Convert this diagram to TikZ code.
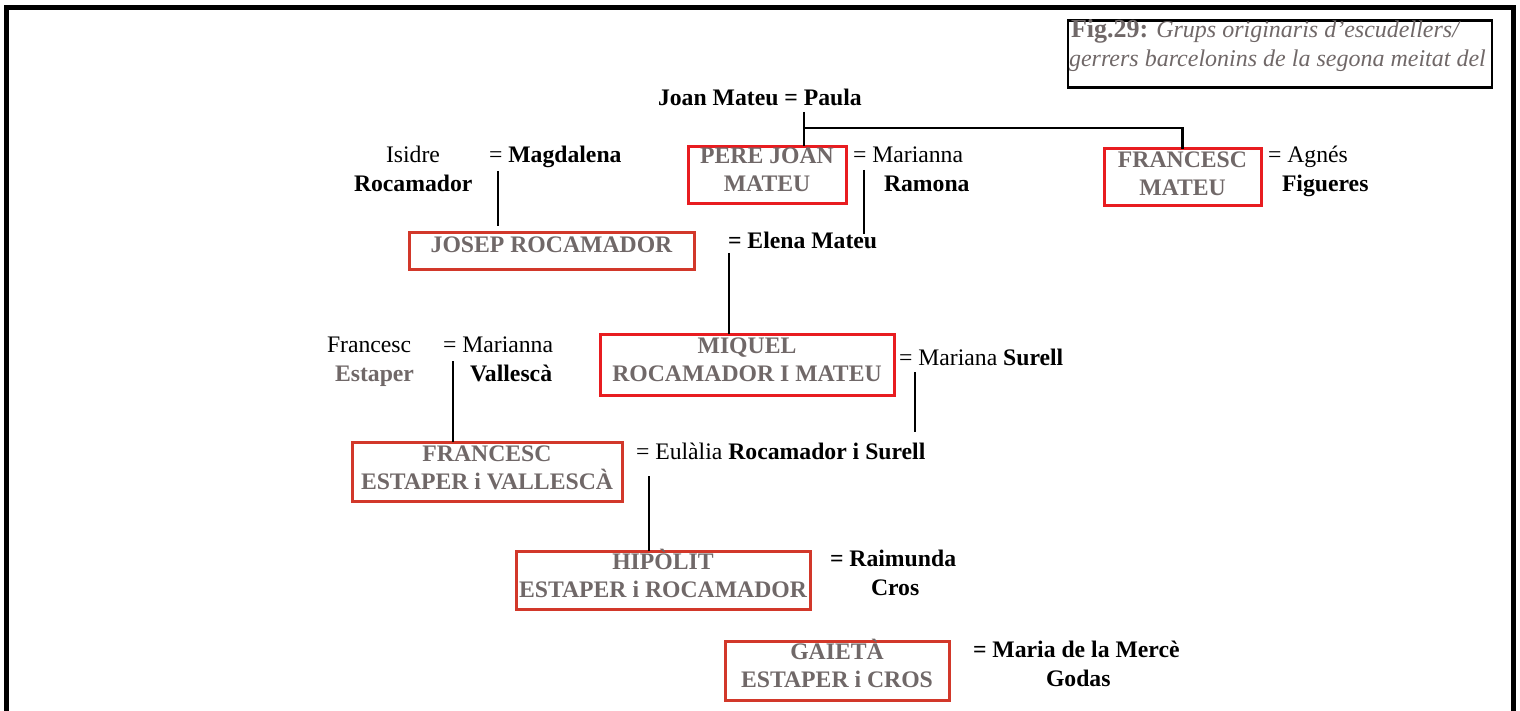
\documentclass[tikz,border=0pt]{standalone}
\usepackage{fontspec}
\setmainfont{Liberation Serif}
\definecolor{namegray}{RGB}{112,104,104}
\definecolor{redA}{RGB}{232,28,32}
\definecolor{redB}{RGB}{210,56,42}
\begin{document}
\begin{tikzpicture}[x=1pt,y=-1pt,
  every node/.style={font=\fontsize{23.7}{28}\selectfont, inner sep=0pt, outer sep=0pt},
  txt/.style={anchor=base west},
  namebox/.style={draw=#1, line width=3pt, text=namegray,
    font=\fontsize{23.7}{28}\selectfont\bfseries, align=center, text height=45pt},
  conn/.style={line width=2.5pt, black}]
\useasboundingbox (0,0) rectangle (1520,711);
% outer frame
\draw[line width=5pt] (6.5,730) -- (6.5,7.5) -- (1513.5,7.5) -- (1513.5,730);
% caption
\node[draw, line width=2.5pt, minimum width=424pt, minimum height=67pt, anchor=north west] (capbox) at (1068,20.5) {};
\node[txt, text=namegray, font=\fontsize{24}{28}\selectfont] (cap1) at (1071,38) {\textbf{\fontsize{26}{28}\selectfont Fig.29:} \textit{Grups originaris d’escudellers/}};
\node[txt, text=namegray, font=\fontsize{24}{28}\selectfont\itshape] (cap2) at (1069,67) {gerrers barcelonins de la segona meitat del};
% top couple
\node[txt, font=\fontsize{23.7}{28}\selectfont\bfseries] (joan) at (658,106) {Joan Mateu = Paula};
% boxes
\node[namebox=redA, minimum width=158pt, minimum height=56pt, text depth=12.5pt] (pere) at (767,175) {PERE JOAN\\MATEU};
\node[namebox=redA, minimum width=157pt, minimum height=57pt, text depth=9.5pt] (fmateu) at (1182.5,177.5) {FRANCESC\\MATEU};
\node[namebox=redB, minimum width=285pt, minimum height=37pt, text height=17pt, text depth=14.5pt] (josep) at (551.5,251.5) {JOSEP ROCAMADOR};
\node[namebox=redA, minimum width=294pt, minimum height=61pt, text depth=10.5pt] (miquel) at (747,364.5) {MIQUEL\\ROCAMADOR I MATEU};
\node[namebox=redB, minimum width=270pt, minimum height=59pt, text depth=8.5pt] (festaper) at (487,471.5) {FRANCESC\\ESTAPER i VALLESCÀ};
\node[namebox=redB, minimum width=294pt, minimum height=58pt, text depth=10.5pt] (hipolit) at (663,580) {HIPÒLIT\\ESTAPER i ROCAMADOR};
\node[namebox=redB, minimum width=224pt, minimum height=59pt, text depth=11.5pt] (gaieta) at (837,670.5) {GAIETÀ\\ESTAPER i CROS};
% spouses and parents
\node[txt] (isidre) at (386,163) {Isidre};
\node[txt, font=\fontsize{23.7}{28}\selectfont\bfseries] (isidre2) at (354,192) {Rocamador};
\node[txt] (magda) at (489,163) {= \textbf{Magdalena}};
\node[txt] (mari1) at (853,163) {= Marianna};
\node[txt, font=\fontsize{23.7}{28}\selectfont\bfseries] (mari1b) at (884,192) {Ramona};
\node[txt] (agnes) at (1268,163) {= Agnés};
\node[txt, font=\fontsize{23.7}{28}\selectfont\bfseries] (agnesb) at (1282,192) {Figueres};
\node[txt, font=\fontsize{23.7}{28}\selectfont\bfseries] (elena) at (728,249) {= Elena Mateu};
\node[txt] (fran) at (327,352) {Francesc};
\node[txt, text=namegray, font=\fontsize{23.7}{28}\selectfont\bfseries] (franb) at (335,381) {Estaper};
\node[txt] (mari2) at (443,352) {= Marianna};
\node[txt, font=\fontsize{23.7}{28}\selectfont\bfseries] (mari2b) at (470,381) {Vallescà};
\node[txt] (surell) at (899,365) {= Mariana \textbf{Surell}};
\node[txt] (eulalia) at (636,459) {= Eulàlia \textbf{Rocamador i Surell}};
\node[txt, font=\fontsize{23.7}{28}\selectfont\bfseries] (raim) at (830,566) {= Raimunda};
\node[txt, font=\fontsize{23.7}{28}\selectfont\bfseries] (raimb) at (871,595) {Cros};
\node[txt, font=\fontsize{23.7}{28}\selectfont\bfseries] (merce) at (973,657) {= Maria de la Mercè};
\node[txt, font=\fontsize{23.7}{28}\selectfont\bfseries] (mercb) at (1046,686) {Godas};
% connectors
\coordinate (jmA) at (804,112);
\coordinate (jmB) at (804,128);
\draw[conn] (jmA) -- (jmA |- pere.north);
\draw[conn] (jmB) -| (fmateu.north);
\coordinate (mgA) at (498,171);
\coordinate (mgB) at (498,226);
\draw[conn] (mgA) -- (mgB);
\coordinate (rmA) at (864,170);
\coordinate (rmB) at (864,234);
\draw[conn] (rmA) -- (rmB);
\coordinate (elA) at (729,253);
\draw[conn] (elA) -- (elA |- miquel.north);
\coordinate (suA) at (915,372);
\coordinate (suB) at (915,432);
\draw[conn] (suA) -- (suB);
\coordinate (vaA) at (453,361);
\draw[conn] (vaA) -- (vaA |- festaper.north);
\coordinate (euA) at (649,476);
\draw[conn] (euA) -- (euA |- hipolit.north);
\end{tikzpicture}
\end{document}
